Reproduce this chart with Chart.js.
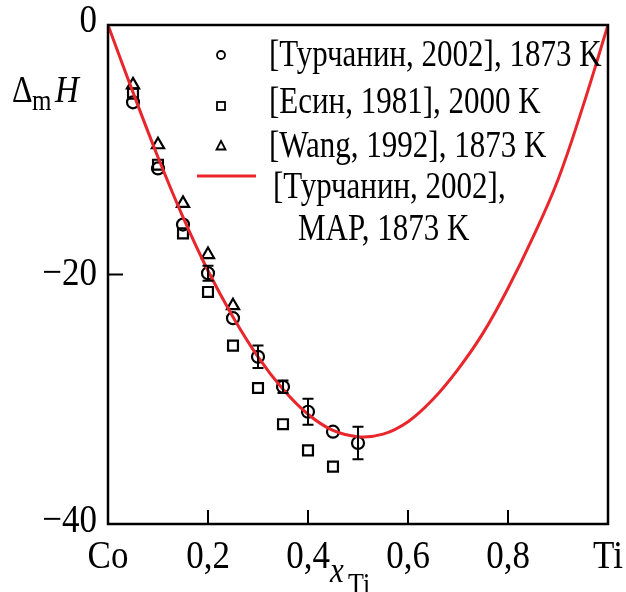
<!DOCTYPE html>
<html lang="ru">
<head>
<meta charset="UTF-8">
<title>Co-Ti, энтальпия смешения</title>
<script src="https://cdn.jsdelivr.net/npm/chart.js"></script>
<style>
  html, body { margin: 0; padding: 0; background: #fff; }
  #wrap { width: 626px; height: 592px; }
</style>
</head>
<body>
<div id="wrap"><canvas id="chart" width="626" height="592"></canvas></div>
<script>
// [Турчанин, 2002], 1873 K
const xTurch = [0.05, 0.1, 0.15, 0.2, 0.25, 0.3, 0.35, 0.4, 0.45, 0.5];
const yTurch = [-6.2, -11.5, -16.0, -19.9, -23.5, -26.6, -29.0, -31.0, -32.6, -33.5];
const errTurch = [0, 0, 0, 0.6, 0, 0.9, 0.5, 1.05, 0, 1.3];
// [Есин, 1981], 2000 K
const xEsin = [0.05, 0.1, 0.15, 0.2, 0.25, 0.3, 0.35, 0.4, 0.45];
const yEsin = [-5.5, -11.2, -16.7, -21.4, -25.7, -29.1, -32.0, -34.1, -35.4];
// [Wang, 1992], 1873 K
const xWang = [0.05, 0.1, 0.15, 0.2, 0.25];
const yWang = [-4.8, -9.6, -14.3, -18.4, -22.5];
// [Турчанин, 2002], MAP, 1873 K (кривая)
const xMap = [0, 0.05, 0.1, 0.15, 0.2, 0.25, 0.3, 0.35, 0.4, 0.45, 0.5, 0.55, 0.6, 0.65, 0.7, 0.75, 0.8, 0.85, 0.9, 0.95, 1];
const yMap = [0, -5.4, -10.6, -15.4, -19.7, -23.4, -26.6, -29.2, -31.2, -32.5, -33.0, -32.8, -31.8, -30.0, -27.6, -24.7, -21.1, -17.0, -12.4, -6.5, 0];

const xTicks = [0, 0.2, 0.4, 0.6, 0.8, 1];
const xTickLabels = ['Co', '0,2', '0,4', '0,6', '0,8', 'Ti'];
const yTicks = [0, -20, -40];
const yTickLabels = ['0', '\u221220', '\u221240'];
const legendLabels = ['[Турчанин, 2002], 1873 K', '[Есин, 1981], 2000 K', '[Wang, 1992], 1873 K', '[Турчанин, 2002],', 'MAP, 1873 K'];

const RED = '#e8262b';
const SERIF = "'Liberation Serif', 'Times New Roman', Times, 'DejaVu Serif', serif";

function pts(xs, ys) {
    return xs.map((x, i) => ({ x: x, y: ys[i] }));
}

// текст слегка вытянут по вертикали, как на рисунке
function txt(ctx, s, x, y, size, align, base, italic, sy) {
    ctx.save();
    ctx.translate(x, y);
    ctx.scale(1, sy || 1.18);
    ctx.font = (italic ? 'italic ' : '') + size + 'px ' + SERIF;
    ctx.textAlign = align;
    ctx.textBaseline = base;
    ctx.fillStyle = '#000';
    ctx.fillText(s, 0, 0);
    ctx.restore();
}

// планки погрешностей
const errorBars = {
    id: 'errorBars',
    afterDatasetsDraw(chart) {
        const ctx = chart.ctx;
        const xs = chart.scales.x, ys = chart.scales.y;
        ctx.save();
        ctx.strokeStyle = '#000';
        ctx.lineWidth = 2;
        xTurch.forEach((x, i) => {
            const e = errTurch[i];
            if (!e) return;
            const px = xs.getPixelForValue(x);
            const top = ys.getPixelForValue(yTurch[i] + e);
            const bot = ys.getPixelForValue(yTurch[i] - e);
            ctx.beginPath();
            ctx.moveTo(px, top); ctx.lineTo(px, bot);
            ctx.moveTo(px - 5.5, top); ctx.lineTo(px + 5.5, top);
            ctx.moveTo(px - 5.5, bot); ctx.lineTo(px + 5.5, bot);
            ctx.stroke();
        });
        ctx.restore();
    }
};

// рамка, засечки, подписи, легенда
const frame = {
    id: 'frame',
    afterDraw(chart) {
        const ctx = chart.ctx;
        const a = chart.chartArea;
        const xs = chart.scales.x, ys = chart.scales.y;
        ctx.save();
        ctx.strokeStyle = '#000';
        ctx.lineWidth = 2.5;
        ctx.strokeRect(a.left, a.top, a.right - a.left, a.bottom - a.top);

        ctx.lineWidth = 2;
        ctx.beginPath();
        xTicks.forEach(v => {
            if (v === 0 || v === 1) return;
            const px = xs.getPixelForValue(v);
            ctx.moveTo(px, a.bottom); ctx.lineTo(px, a.bottom - 14);
        });
        yTicks.forEach(v => {
            if (v === 0 || v === -40) return;
            const py = ys.getPixelForValue(v);
            ctx.moveTo(a.left, py); ctx.lineTo(a.left + 15, py);
        });
        ctx.stroke();

        xTicks.forEach((v, i) => {
            txt(ctx, xTickLabels[i], xs.getPixelForValue(v), a.bottom + 13, 35, 'center', 'top', false, 1.15);
        });
        yTicks.forEach((v, i) => {
            const dy = v === 0 ? -4 : (v === -40 ? -3 : 0);
            txt(ctx, yTickLabels[i], 97, ys.getPixelForValue(v) + dy, 35, 'right', 'middle', false, 1.15);
        });

        // x_Ti
        txt(ctx, 'x', 330, 582, 31, 'left', 'alphabetic', true);
        txt(ctx, 'Ti', 348, 595, 26, 'left', 'alphabetic', false);
        // Δ_m H
        txt(ctx, '\u0394', 12, 102, 32, 'left', 'alphabetic', false);
        txt(ctx, 'm', 32, 110, 25, 'left', 'alphabetic', false);
        txt(ctx, 'H', 55, 102, 33, 'left', 'alphabetic', true);

        // легенда
        ctx.lineWidth = 1.8;
        ctx.strokeStyle = '#000';
        ctx.beginPath();
        ctx.arc(221, 55, 4, 0, Math.PI * 2);
        ctx.stroke();
        ctx.strokeRect(217, 102, 8, 8);
        ctx.beginPath();
        ctx.moveTo(221, 141); ctx.lineTo(225.5, 149.5); ctx.lineTo(216.5, 149.5); ctx.closePath();
        ctx.stroke();
        ctx.strokeStyle = RED;
        ctx.lineWidth = 3;
        ctx.beginPath();
        ctx.moveTo(197, 176); ctx.lineTo(256, 176);
        ctx.stroke();

        const lx = [269, 269, 269, 273, 298];
        const ly = [66, 113, 157, 198, 240];
        legendLabels.forEach((s, i) => txt(ctx, s, lx[i], ly[i], 31, 'left', 'alphabetic', false, 1.2));
        ctx.restore();
    }
};

const ctx = document.getElementById('chart').getContext('2d');
const chart = new Chart(ctx, {
    type: 'scatter',
    data: {
        datasets: [
            {
                label: legendLabels[3] + ' ' + legendLabels[4],
                type: 'line',
                data: pts(xMap, yMap),
                borderColor: RED,
                borderWidth: 3,
                pointRadius: 0,
                fill: false,
                tension: 0.4
            },
            {
                label: legendLabels[0],
                data: pts(xTurch, yTurch),
                pointStyle: 'circle',
                pointRadius: 6,
                borderWidth: 2.2,
                borderColor: '#000',
                backgroundColor: 'rgba(0,0,0,0)'
            },
            {
                label: legendLabels[1],
                data: pts(xEsin, yEsin),
                pointStyle: 'rect',
                pointRadius: 7,
                borderWidth: 2.2,
                borderColor: '#000',
                backgroundColor: 'rgba(0,0,0,0)'
            },
            {
                label: legendLabels[2],
                data: pts(xWang, yWang),
                pointStyle: 'triangle',
                pointRadius: 7,
                borderWidth: 2.2,
                borderColor: '#000',
                backgroundColor: 'rgba(0,0,0,0)'
            }
        ]
    },
    options: {
        responsive: false,
        animation: false,
        layout: { padding: { left: 108, right: 18, top: 25, bottom: 68 } },
        scales: {
            x: { type: 'linear', min: 0, max: 1, display: false },
            y: { type: 'linear', min: -40, max: 0, display: false }
        },
        plugins: {
            legend: { display: false },
            tooltip: { enabled: false }
        }
    },
    plugins: [errorBars, frame]
});

if (document.fonts) {
    document.fonts.ready.then(() => chart.draw());
}
</script>
</body>
</html>
